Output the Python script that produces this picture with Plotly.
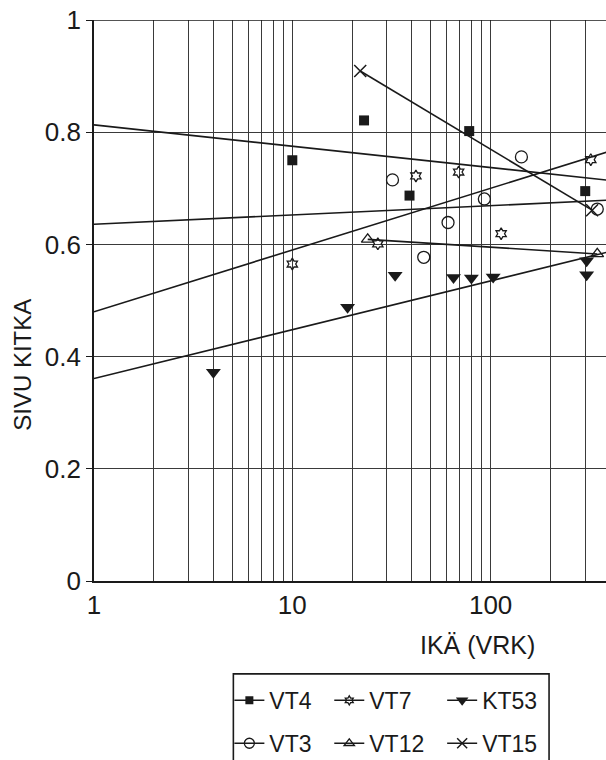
import numpy as np
import plotly.graph_objects as go

# ---------------- data ----------------
vt4_age = [10, 23, 39, 78, 300]
vt4_friction = [0.750, 0.821, 0.687, 0.802, 0.695]

vt7_age = [10, 27, 42, 69, 113, 320]
vt7_friction = [0.565, 0.601, 0.722, 0.729, 0.619, 0.751]

kt53_age = [4, 19, 33, 65, 80, 103, 305, 305]
kt53_friction = [0.372, 0.488, 0.545, 0.541, 0.540, 0.542, 0.571, 0.546]

vt3_age = [32, 46, 61, 93, 143, 345]
vt3_friction = [0.715, 0.577, 0.639, 0.681, 0.756, 0.663]

vt12_age = [24, 345]
vt12_friction = [0.609, 0.583]

vt15_age = [22, 325]
vt15_friction = [0.909, 0.661]

# trend lines: friction = intercept + slope * log10(age)
trend_series = ["VT4", "VT7", "VT3", "KT53"]
trend_intercept = [0.813, 0.480, 0.636, 0.361]
trend_slope = [-0.038, 0.110, 0.0165, 0.087]
trend_age_span = [1, 1000]

x_tick_values = [1, 2, 3, 4, 5, 6, 7, 8, 9,
                 10, 20, 30, 40, 50, 60, 70, 80, 90,
                 100, 200, 300, 400, 500, 600, 700, 800, 900, 1000]
x_tick_labels = ["1" if v == 1 else "10" if v == 10 else "100" if v == 100
                 else "1000" if v == 1000 else "" for v in x_tick_values]
y_tick_values = [0, 0.2, 0.4, 0.6, 0.8, 1.0]
y_tick_labels = ["0", "0.2", "0.4", "0.6", "0.8", "1"]

# ---------------- styling ----------------
INK = "#1a1a1a"
GRID = "#3a3a3a"
FONT = "Liberation Sans, Arial, sans-serif"

W, H = 606, 760
ML, MT, MB = 93.5, 19.5, 179
PW = W - ML
PH = H - MT - MB


def px_to_paper_x(px):
    return (px - ML) / PW


def py_to_paper_y(py):
    return (H - MB - py) / PH


styles = {
    "VT4": dict(symbol="square", size=10, color=INK, line=dict(width=0)),
    "VT7": dict(symbol="hexagram-open", size=9, color=INK, line=dict(width=1.3, color=INK)),
    "KT53": dict(symbol="triangle-down", size=13, color=INK, line=dict(width=0)),
    "VT3": dict(symbol="circle-open", size=12, color=INK, line=dict(width=1.3, color=INK)),
    "VT12": dict(symbol="triangle-up-open", size=11, color=INK, line=dict(width=1.3, color=INK)),
    "VT15": dict(symbol="x-thin-open", size=12, color=INK, line=dict(width=1.5, color=INK)),
}

fig = go.Figure()

# trend lines across the axis
for name, a, b in zip(trend_series, trend_intercept, trend_slope):
    xs = np.array(trend_age_span, dtype=float)
    ys = a + b * np.log10(xs)
    fig.add_trace(go.Scatter(x=xs, y=ys, mode="lines", showlegend=False,
                             line=dict(color=INK, width=1.6), hoverinfo="skip"))

point_sets = [
    ("VT4", vt4_age, vt4_friction, "markers"),
    ("VT7", vt7_age, vt7_friction, "markers"),
    ("KT53", kt53_age, kt53_friction, "markers"),
    ("VT3", vt3_age, vt3_friction, "markers"),
    ("VT12", vt12_age, vt12_friction, "lines+markers"),
    ("VT15", vt15_age, vt15_friction, "lines+markers"),
]
for name, xs, ys, mode in point_sets:
    fig.add_trace(go.Scatter(x=xs, y=ys, mode=mode, name=name, showlegend=False,
                             marker=styles[name], line=dict(color=INK, width=1.6)))

# legend entries (three columns, two rows)
legend_columns = [("legend", ["VT4", "VT3"]),
                  ("legend2", ["VT7", "VT12"]),
                  ("legend3", ["KT53", "VT15"])]
for lg, names in legend_columns:
    for name in names:
        st = dict(styles[name])
        st["size"] = st["size"] - 2
        fig.add_trace(go.Scatter(x=[None], y=[None], mode="lines+markers", name=name,
                                 legend=lg, legendgroup=name, showlegend=True,
                                 marker=st, line=dict(color=INK, width=1.5)))

legend_common = dict(
    orientation="v", xanchor="left", yanchor="top",
    bgcolor="rgba(0,0,0,0)", borderwidth=0,
    font=dict(family=FONT, size=23, color=INK),
    traceorder="grouped", tracegroupgap=10, itemwidth=30,
)
legend_left_px = [229, 329, 442]
legend_top_y = py_to_paper_y(679)

fig.update_layout(
    width=W, height=H,
    margin=dict(l=ML, r=0, t=MT, b=MB, pad=0, autoexpand=False),
    paper_bgcolor="white", plot_bgcolor="white",
    font=dict(family=FONT, color=INK),
    legend=dict(legend_common, x=px_to_paper_x(legend_left_px[0]), y=legend_top_y),
    legend2=dict(legend_common, x=px_to_paper_x(legend_left_px[1]), y=legend_top_y),
    legend3=dict(legend_common, x=px_to_paper_x(legend_left_px[2]), y=legend_top_y),
    xaxis=dict(
        type="log", range=[0, (W - ML) / 198.5],
        tickvals=x_tick_values, ticktext=x_tick_labels,
        showgrid=True, gridcolor=GRID, gridwidth=1.4,
        showline=True, linecolor=INK, linewidth=1.6,
        ticks="", zeroline=False,
        tickfont=dict(family=FONT, size=26, color=INK),
        ticklabelstandoff=0,
    ),
    yaxis=dict(
        range=[0, 1],
        tickvals=y_tick_values, ticktext=y_tick_labels,
        showgrid=True, gridcolor=GRID, gridwidth=1.4,
        showline=True, linecolor=INK, linewidth=1.6,
        ticks="outside", ticklen=6, tickwidth=1.4, tickcolor=INK,
        zeroline=False,
        tickfont=dict(family=FONT, size=26, color=INK),
    ),
    shapes=[
        dict(type="line", xref="paper", yref="y", x0=0, x1=1, y0=1, y1=1,
             line=dict(color=INK, width=1.6)),
        dict(type="rect", xref="paper", yref="paper",
             x0=px_to_paper_x(233), x1=px_to_paper_x(549),
             y0=py_to_paper_y(775), y1=py_to_paper_y(674),
             line=dict(color=INK, width=1.6), fillcolor="rgba(0,0,0,0)"),
    ],
    annotations=[
        dict(text="IKÄ (VRK)", xref="paper", yref="paper",
             x=px_to_paper_x(477), y=py_to_paper_y(645),
             xanchor="center", yanchor="middle", showarrow=False,
             font=dict(family=FONT, size=25, color=INK)),
        dict(text="SIVU KITKA", xref="paper", yref="paper",
             x=px_to_paper_x(22), y=py_to_paper_y(365), textangle=-90,
             xanchor="center", yanchor="middle", showarrow=False,
             font=dict(family=FONT, size=24, color=INK)),
    ],
)

fig.write_html("out.html")
